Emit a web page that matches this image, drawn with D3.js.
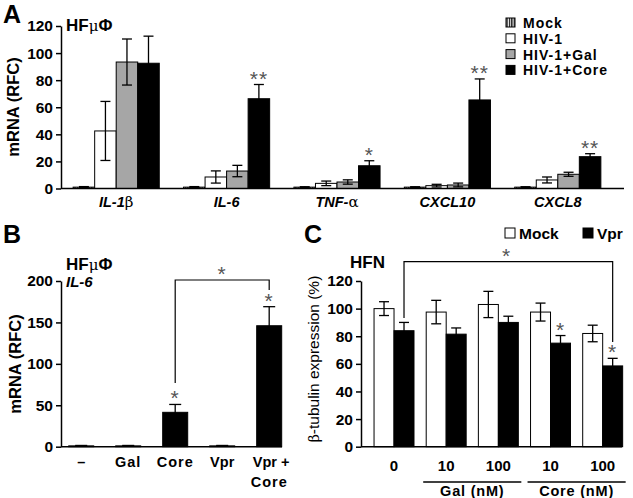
<!DOCTYPE html>
<html><head><meta charset="utf-8">
<script src="https://cdn.jsdelivr.net/npm/d3@7"></script>
<style>body{margin:0;background:#fff}svg{display:block}text{font-family:"Liberation Sans",Arial,sans-serif}</style>
</head><body><svg id="c" width="633" height="498"></svg>
<script>
// ---- Panel A data
const genesA = ["IL-1β","IL-6","TNF-α","CXCL10","CXCL8"];
const seriesA = ["Mock","HIV-1","HIV-1+Gal","HIV-1+Core"];
const valuesA = [[1,42.5,93.4,92.5],[1,8.5,12.9,66.3],[1,3.8,4.8,16.8],[1,2.1,2.6,65.4],[1,6.3,10.5,23.5]];
const errA = [[0.4,21.8,17,20],[0.4,4.5,4.2,10.5],[0.3,1.7,1.6,3.7],[0.3,1,1.4,15.5],[0.3,2.2,1.5,2.2]];
const starsA = ["","**","*","**","**"];
const ticksA = [0,20,40,60,80,100,120];
// ---- Panel B data
const catsB = ["–","Gal","Core","Vpr","Vpr +|Core"];
const valsB = [1,1,41.5,1,146];
const errB = [0.5,0.5,9.5,0.5,23];
const starsB = ["","","*","","*"];
const ticksB = [0,50,100,150,200];
// ---- Panel C data
const dosesC = ["0","10","100","10","100"];
const seriesC = ["Mock","Vpr"];
const mockC = [100,97.5,103,97.5,82];
const vprC = [84,81.5,90,75,58.5];
const errMockC = [5,8.5,9.5,6.5,6];
const errVprC = [6,4.5,4.5,5.5,5.5];
const starsC = ["","","","*","*"];
const ticksC = [0,20,40,60,80,100,120];

const svg = d3.select("#c");
const defs = svg.append("defs");
const pat = defs.append("pattern").attr("id","stripes").attr("patternUnits","userSpaceOnUse")
  .attr("width",2.4).attr("height",4);
pat.append("rect").attr("width",2.4).attr("height",4).attr("fill","#fff");
pat.append("rect").attr("width",1.3).attr("height",4).attr("fill","#111");

const fillsA = ["url(#stripes)","#fff","#a6a6a6","#000"];
const STAR = "#555";

function yAxis(g, y, ticks){
  const ax = g.call(d3.axisLeft(y).tickValues(ticks).tickSize(5).tickPadding(3).tickSizeOuter(0));
  ax.select(".domain").attr("stroke-width",1.5);
  ax.selectAll(".tick line").attr("stroke-width",1.5);
  ax.selectAll(".tick text").attr("font-size",15.5).attr("font-weight","bold").attr("fill","#000")
    .attr("font-family",'"Liberation Sans",Arial,sans-serif');
}
function errBar(g, x, yTop, yBot, w){
  g.append("line").attr("x1",x).attr("x2",x).attr("y1",yTop).attr("y2",yBot).attr("stroke","#000").attr("stroke-width",1.3);
  g.append("line").attr("x1",x-w/2).attr("x2",x+w/2).attr("y1",yTop).attr("y2",yTop).attr("stroke","#000").attr("stroke-width",1.3);
  g.append("line").attr("x1",x-w/2).attr("x2",x+w/2).attr("y1",yBot).attr("y2",yBot).attr("stroke","#000").attr("stroke-width",1.3);
}
function star(g, x, y, s){
  g.append("text").attr("x",x).attr("y",y).attr("text-anchor","middle").attr("font-size",21)
    .attr("fill",STAR).attr("letter-spacing",1).text(s);
}

// ================= Panel A
{
  const g = svg.append("g");
  const y = d3.scaleLinear().domain([0,120]).range([188.5,26]);
  const x0 = d3.scaleBand().domain(genesA).range([61,613]).paddingInner(0.22).paddingOuter(0.11);
  const x1 = d3.scaleBand().domain(seriesA).range([0,x0.bandwidth()]);
  genesA.forEach((gene,i)=>{
    seriesA.forEach((s,j)=>{
      const v = valuesA[i][j], e = errA[i][j];
      const bx = x0(gene)+x1(s);
      g.append("rect").attr("x",bx).attr("y",y(v)).attr("width",x1.bandwidth()).attr("height",y(0)-y(v))
        .attr("fill",fillsA[j]).attr("stroke","#000").attr("stroke-width",1);
      errBar(g, bx+x1.bandwidth()/2, y(v+e), y(Math.max(0,v-e)), 10);
    });
    if(starsA[i]){
      const s = seriesA[3];
      star(g, x0(gene)+x1(s)+x1.bandwidth()/2, y(valuesA[i][3]+errA[i][3])+1, starsA[i]);
    }
    const parts = gene.match(/^(.*?)([βα]?)$/);
    const t = g.append("text").attr("x",x0(gene)+x0.bandwidth()/2).attr("y",207).attr("text-anchor","middle")
      .attr("font-size",14.5).attr("font-weight","bold").attr("font-style","italic");
    t.append("tspan").text(parts[1]);
    if(parts[2]) t.append("tspan").attr("font-weight","normal").attr("font-style","normal")
      .attr("font-family",'"DejaVu Serif",serif').attr("font-size",15).text(parts[2]);
  });
  g.append("line").attr("x1",61).attr("x2",624).attr("y1",y(0)).attr("y2",y(0)).attr("stroke","#000").attr("stroke-width",1.5);
  yAxis(g.append("g").attr("transform","translate(61,0)"), y, ticksA);
  g.append("text").attr("transform","translate(19,107) rotate(-90)").attr("text-anchor","middle")
    .attr("font-size",16.5).attr("font-weight","bold").text("mRNA (RFC)");
  g.append("text").attr("x",3).attr("y",23).attr("font-size",25).attr("font-weight","bold").text("A");
  const hf = g.append("text").attr("x",66).attr("y",31).attr("font-size",17).attr("font-weight","bold");
  hf.append("tspan").text("HF"); hf.append("tspan").attr("font-weight","normal").attr("font-family",'"DejaVu Serif",serif').attr("font-size",15).text("μ"); hf.append("tspan").text("Φ");
  seriesA.forEach((s,j)=>{
    const ly = 22.5 + j*15.8;
    g.append("rect").attr("x",506).attr("y",ly-4.5).attr("width",9).attr("height",9).attr("fill",fillsA[j]).attr("stroke","#000").attr("stroke-width",1);
    g.append("text").attr("x",523).attr("y",ly+5.5).attr("font-size",14).attr("font-weight","bold").attr("letter-spacing",1).text(s);
  });
}

// ================= Panel B
{
  const g = svg.append("g");
  const y = d3.scaleLinear().domain([0,200]).range([446.7,281]);
  const x = d3.scaleBand().domain(catsB).range([61,289.4]).paddingInner(0.468).paddingOuter(0.164);
  catsB.forEach((c,i)=>{
    const v = valsB[i], e = errB[i];
    g.append("rect").attr("x",x(c)).attr("y",y(v)).attr("width",x.bandwidth()).attr("height",y(0)-y(v))
      .attr("fill","#000").attr("stroke","#000");
    const cx = x(c)+x.bandwidth()/2;
    errBar(g, cx, y(v+e), y(Math.max(0,v-e)), 12);
    if(starsB[i]) star(g, cx, y(v+e)+1, starsB[i]);
    const lines = c.split("|");
    lines.forEach((l,k)=>{
      g.append("text").attr("x",cx+(c==="Vpr +|Core"&&k===0?2:0)).attr("y",467+k*20).attr("text-anchor","middle")
        .attr("font-size",14.5).attr("font-weight","bold").attr("letter-spacing",(l==="Gal"||l==="Core")?1:0).text(l);
    });
  });
  const xa = x(catsB[2])+x.bandwidth()/2, xb = x(catsB[4])+x.bandwidth()/2;
  g.append("path").attr("d",`M${xa},383V280H${xb}V290`).attr("fill","none").attr("stroke","#000").attr("stroke-width",1.2);
  star(g,(xa+xb)/2,281,"*");
  g.append("line").attr("x1",61).attr("x2",282).attr("y1",y(0)).attr("y2",y(0)).attr("stroke","#000").attr("stroke-width",1.5);
  yAxis(g.append("g").attr("transform","translate(61,0)"), y, ticksB);
  g.append("text").attr("transform","translate(21,364) rotate(-90)").attr("text-anchor","middle")
    .attr("font-size",16.5).attr("font-weight","bold").text("mRNA (RFC)");
  g.append("text").attr("x",3).attr("y",243).attr("font-size",25).attr("font-weight","bold").text("B");
  const hf = g.append("text").attr("x",66).attr("y",270).attr("font-size",17).attr("font-weight","bold");
  hf.append("tspan").text("HF"); hf.append("tspan").attr("font-weight","normal").attr("font-family",'"DejaVu Serif",serif').attr("font-size",15).text("μ"); hf.append("tspan").text("Φ");
  g.append("text").attr("x",66).attr("y",287).attr("font-size",15).attr("font-weight","bold").attr("font-style","italic").text("IL-6");
}

// ================= Panel C
{
  const g = svg.append("g");
  const y = d3.scaleLinear().domain([0,120]).range([446.7,281]);
  const keys = dosesC.map((d,i)=>i);
  const x0 = d3.scaleBand().domain(keys).range([361,635.7]).paddingInner(0.234).paddingOuter(0.25);
  const x1 = d3.scaleBand().domain(seriesC).range([0,x0.bandwidth()]);
  keys.forEach(i=>{
    [[mockC,errMockC,"#fff"],[vprC,errVprC,"#000"]].forEach(([vals,errs,fill],j)=>{
      const v = vals[i], e = errs[i];
      const bx = x0(i)+x1(seriesC[j]);
      g.append("rect").attr("x",bx).attr("y",y(v)).attr("width",x1.bandwidth()).attr("height",y(0)-y(v))
        .attr("fill",fill).attr("stroke","#000").attr("stroke-width",1);
      errBar(g, bx+x1.bandwidth()/2, y(v+e), y(v-e), 10);
    });
    if(starsC[i]){
      star(g, x0(i)+x1("Vpr")+x1.bandwidth()/2, y(vprC[i]+errVprC[i])+1, starsC[i]);
    }
    g.append("text").attr("x",x0(i)+x0.bandwidth()/2).attr("y",471).attr("text-anchor","middle")
      .attr("font-size",15).attr("font-weight","bold").text(dosesC[i]);
  });
  const groups = [["Gal (nM)",1,2],["Core (nM)",3,4]];
  groups.forEach(([lab,a,b])=>{
    const xa = x0(a)-3, xb = x0(b)+x0.bandwidth()+3;
    g.append("line").attr("x1",xa).attr("x2",xb).attr("y1",482).attr("y2",482).attr("stroke","#000").attr("stroke-width",1.3);
    g.append("text").attr("x",(xa+xb)/2).attr("y",496).attr("text-anchor","middle").attr("font-size",14.5)
      .attr("font-weight","bold").attr("letter-spacing",0.8).text(lab);
  });
  const xa = x0(0)+x1("Vpr")+x1.bandwidth()/2, xb = x0(4)+x1("Vpr")+x1.bandwidth()/2;
  g.append("path").attr("d",`M${xa},318V261.7H${xb}V342`).attr("fill","none").attr("stroke","#000").attr("stroke-width",1.2);
  star(g,506.7,263,"*");
  g.append("line").attr("x1",361).attr("x2",622).attr("y1",y(0)).attr("y2",y(0)).attr("stroke","#000").attr("stroke-width",1.5);
  yAxis(g.append("g").attr("transform","translate(361,0)"), y, ticksC);
  const yl = g.append("text").attr("transform","translate(319,359) rotate(-90)").attr("text-anchor","middle")
    .attr("font-size",15.5);
  yl.append("tspan").attr("font-family",'"DejaVu Serif",serif').attr("font-size",14).text("β");
  yl.append("tspan").text("-tubulin expression (%)");
  g.append("text").attr("x",304).attr("y",243).attr("font-size",25).attr("font-weight","bold").text("C");
  g.append("text").attr("x",350).attr("y",268).attr("font-size",17).attr("font-weight","bold").text("HFN");
  [["Mock","#fff",505],["Vpr","#000",583]].forEach(([s,f,lx])=>{
    g.append("rect").attr("x",lx).attr("y",228).attr("width",10).attr("height",10).attr("fill",f).attr("stroke","#000").attr("stroke-width",1);
    g.append("text").attr("x",lx+14).attr("y",238.5).attr("font-size",15.5).attr("font-weight","bold").text(s);
  });
}
</script></body></html>
